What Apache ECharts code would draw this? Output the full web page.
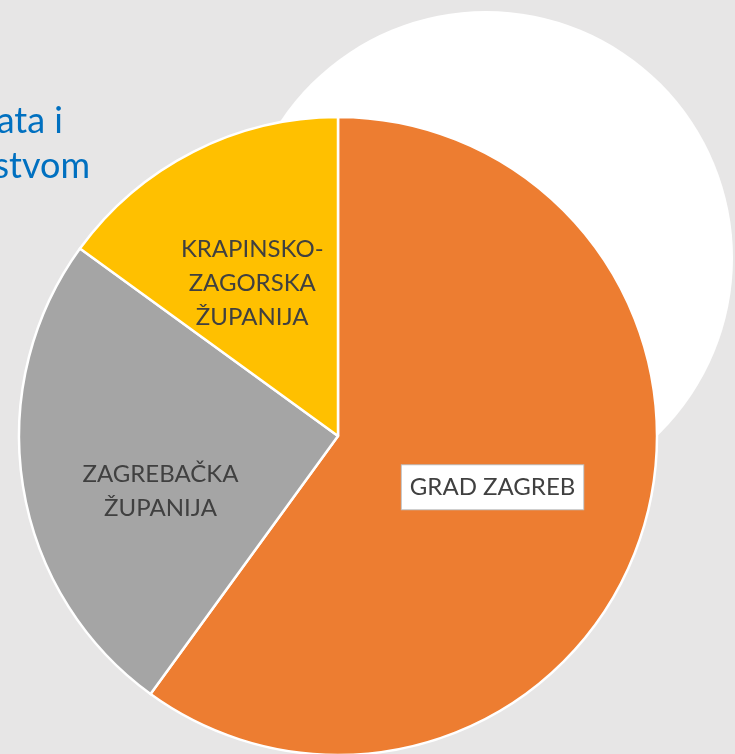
<!DOCTYPE html>
<html lang="hr">
<head>
  <meta charset="utf-8">
  <title>Županije</title>
  <script src="https://cdn.jsdelivr.net/npm/echarts@6/dist/echarts.min.js"></script>
  <style>
    html, body { margin: 0; padding: 0; background: #E7E6E6; }
    #chart1 { width: 735px; height: 754px; }
  </style>
</head>
<body>
<div id="chart1"></div>
<script>
  // podaci (udio u %)
  var nazivi = ['GRAD ZAGREB', 'ZAGREBAČKA\nŽUPANIJA', 'KRAPINSKO-\nZAGORSKA\nŽUPANIJA'];
  var vrijednosti = [60, 25, 15];
  var boje = ['#ED7D31', '#A5A5A5', '#FFC000'];

  // pomaci natpisa kao u originalu
  var pomaci = [[0, 1], [-17, 30], [-12, -8]];

  var chart1 = echarts.init(document.getElementById('chart1'));

  var podaci = nazivi.map(function (n, i) {
    var d = {
      name: n,
      value: vrijednosti[i],
      itemStyle: { color: boje[i] },
      label: { offset: pomaci[i] }
    };
    if (i === 0) {
      d.label.backgroundColor = '#ffffff';
      d.label.borderColor = '#BFBFBF';
      d.label.borderWidth = 1;
      d.label.padding = [6, 8, 4, 8];
    }
    return d;
  });

  var option = {
    backgroundColor: '#E7E6E6',
    animation: false,
    graphic: [
      {
        type: 'circle',
        z: -10,
        shape: { cx: 486, cy: 258, r: 247 },
        style: { fill: '#ffffff' }
      },
      {
        type: 'text',
        x: 63, y: 139,
        style: {
          text: 'ata i',
          fill: '#0070C0',
          font: '36px Lato',
          textAlign: 'right',
          textVerticalAlign: 'bottom'
        }
      },
      {
        type: 'text',
        x: 90, y: 184,
        style: {
          text: 'stvom',
          fill: '#0070C0',
          font: '36px Lato',
          textAlign: 'right',
          textVerticalAlign: 'bottom'
        }
      }
    ],
    series: [
      {
        type: 'pie',
        center: [338, 436],
        radius: [0, 319],
        startAngle: 90,
        clockwise: true,
        itemStyle: { borderColor: '#ffffff', borderWidth: 2.5 },
        label: {
          show: true,
          position: 'inner',
          color: '#404040',
          fontFamily: 'Lato',
          fontSize: 24,
          lineHeight: 34,
          formatter: '{b}'
        },
        labelLine: { show: false },
        emphasis: { disabled: true },
        data: podaci
      }
    ]
  };
  chart1.setOption(option);
</script>
</body>
</html>
